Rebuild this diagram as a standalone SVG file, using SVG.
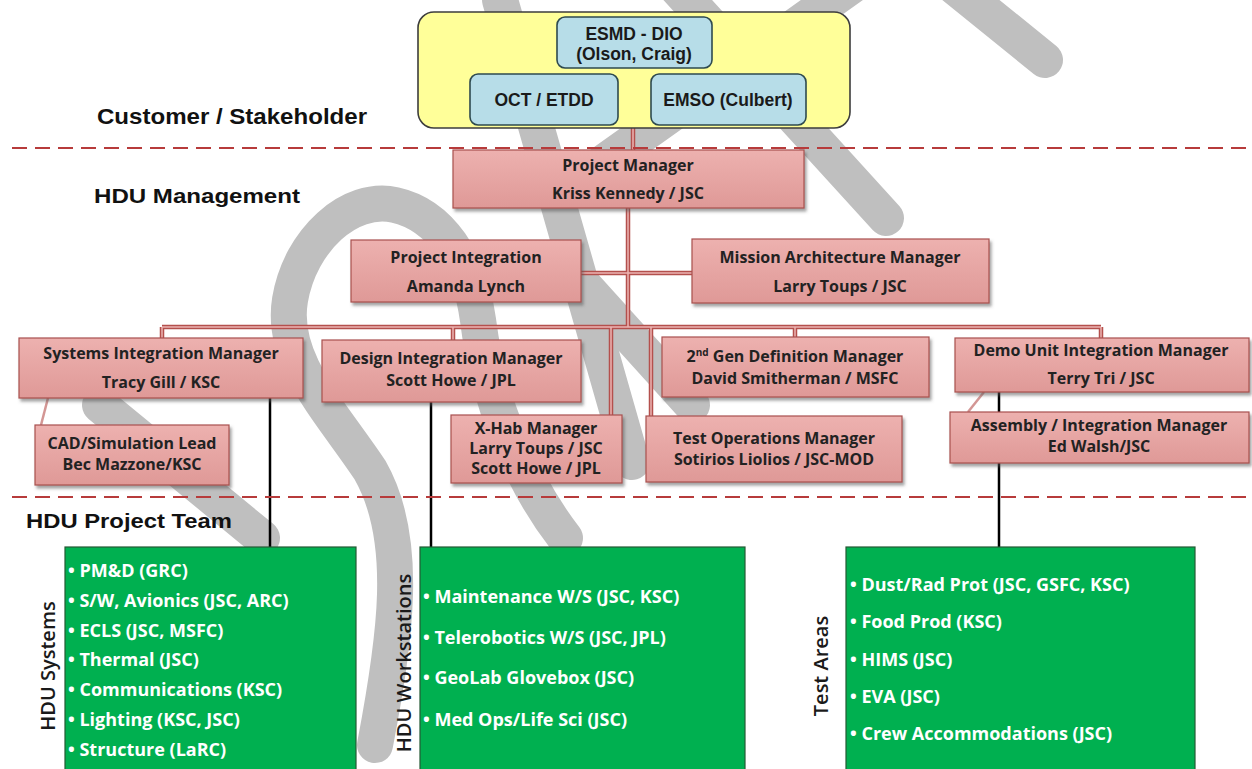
<svg xmlns="http://www.w3.org/2000/svg" width="1252" height="769" viewBox="0 0 1252 769">
<style>
.wm{fill:none;stroke:#bfbfbf;stroke-width:36;stroke-linecap:round;stroke-linejoin:round}
.hdr{font-family:'Liberation Sans',Arial,sans-serif;font-weight:700;fill:#111}
.cust{fill:#ffff99;stroke:#3d3d3d;stroke-width:1.6}
.bl{fill:#b7dde8;stroke:#2e4a4f;stroke-width:1.6}
.bt{font-family:'Liberation Sans',Arial,sans-serif;font-weight:700;font-size:17.5px;fill:#1a1a1a;text-anchor:middle}
.pk{fill:url(#pg);stroke:#a9504e;stroke-width:1.2;filter:url(#sh)}
.pt{font-family:'Open Sans','Noto Sans',sans-serif;font-weight:700;font-size:16px;fill:#222;text-anchor:middle}
.gr{fill:#00b050;stroke:#245a34;stroke-width:1.2}
.gt{font-family:'Open Sans','Noto Sans',sans-serif;font-weight:700;font-size:18px;fill:#fff}
.vl{font-family:'Open Sans','Noto Sans',sans-serif;font-weight:600;font-size:20px;fill:#1a1a1a;text-anchor:middle}
.po{fill:none;stroke:#b4504d;stroke-width:4.5}
.pi{fill:none;stroke:#ecb4b2;stroke-width:1.5}
.lk{fill:none;stroke:#d39694;stroke-width:2.5}
.bk{fill:none;stroke:#000;stroke-width:2.5}
.dash{fill:none;stroke:#b73b3b;stroke-width:2.2;stroke-dasharray:15 8}
</style>
<defs>
<linearGradient id="pg" x1="0" y1="0" x2="0" y2="1">
<stop offset="0" stop-color="#edb1af"/>
<stop offset="1" stop-color="#df9997"/>
</linearGradient>
<filter id="sh" x="-10%" y="-10%" width="120%" height="130%">
<feDropShadow dx="2" dy="3" stdDeviation="1.5" flood-color="#555" flood-opacity="0.55"/>
</filter>
<path id="cp" d="M633,128 V150 M628,208 V327 M581,273 H692 M162,327 H1101 M162,327 V338 M453,327 V340 M795,327 V337 M1101,327 V338 M611,327 V415 M651,327 V416"/>
</defs>

<g id="watermark">
<path class="wm" d="M940,-25 L1045,60"/>
<path class="wm" d="M665,-25 L886,218"/>
<path class="wm" d="M860,-20 L600,165"/>
<path class="wm" d="M500,0 L632,462"/>
<path class="wm" d="M570,270 L692,405"/>
<path class="wm" d="M375,745 C395,640 410,540 370,470 C330,410 280,360 290,300 C300,240 350,195 395,205 C440,215 470,260 478,320 C488,400 520,480 565,538"/>
<path class="wm" d="M100,405 L262,538"/>
</g>

<g id="labels">
<text class="hdr" x="97" y="124" font-size="22" textLength="270" lengthAdjust="spacingAndGlyphs">Customer / Stakeholder</text>
<text class="hdr" x="94" y="203" font-size="21" textLength="206" lengthAdjust="spacingAndGlyphs">HDU Management</text>
<text class="hdr" x="26" y="528" font-size="21" textLength="206" lengthAdjust="spacingAndGlyphs">HDU Project Team</text>
</g>

<g id="connectors">
<use href="#cp" class="po"/>
<use href="#cp" class="pi"/>
<path class="lk" d="M48,398 L41,425"/>
<path class="lk" d="M984,392 L968,412"/>
<path class="bk" d="M270,398 V547 M431,402 V547 M999,392 V547"/>
</g>

<g id="customer">
<rect class="cust" x="418" y="12" width="432" height="116" rx="16"/>
</g>
<g id="esmd">
<rect class="bl" x="557" y="17" width="155" height="51" rx="8"/>
<text class="bt" x="634" y="40">ESMD - DIO</text>
<text class="bt" x="634" y="60">(Olson, Craig)</text>
</g>
<g id="oct">
<rect class="bl" x="470" y="74" width="148" height="51" rx="8"/>
<text class="bt" x="544" y="106">OCT / ETDD</text>
</g>
<g id="emso">
<rect class="bl" x="651" y="74" width="155" height="51" rx="8"/>
<text class="bt" x="728" y="106">EMSO (Culbert)</text>
</g>

<g id="pm">
<rect class="pk" x="453" y="150" width="351" height="58"/>
<text class="pt" x="628" y="171">Project Manager</text>
<text class="pt" x="628" y="199">Kriss Kennedy / JSC</text>
</g>
<g id="pi">
<rect class="pk" x="351" y="240" width="230" height="62"/>
<text class="pt" x="466" y="263">Project Integration</text>
<text class="pt" x="466" y="292">Amanda Lynch</text>
</g>
<g id="ma">
<rect class="pk" x="692" y="239" width="297" height="64"/>
<text class="pt" x="840" y="263">Mission Architecture Manager</text>
<text class="pt" x="840" y="292">Larry Toups / JSC</text>
</g>
<g id="sim">
<rect class="pk" x="19" y="338" width="284" height="60"/>
<text class="pt" x="161" y="359">Systems Integration Manager</text>
<text class="pt" x="161" y="388">Tracy Gill / KSC</text>
</g>
<g id="dim">
<rect class="pk" x="322" y="340" width="259" height="62"/>
<text class="pt" x="451" y="364">Design Integration Manager</text>
<text class="pt" x="451" y="386">Scott Howe / JPL</text>
</g>
<g id="cad">
<rect class="pk" x="35" y="425" width="194" height="60"/>
<text class="pt" x="132" y="449">CAD/Simulation Lead</text>
<text class="pt" x="132" y="470">Bec Mazzone/KSC</text>
</g>
<g id="xhab">
<rect class="pk" x="451" y="415" width="171" height="68"/>
<text class="pt" x="536" y="434">X-Hab Manager</text>
<text class="pt" x="536" y="454">Larry Toups / JSC</text>
<text class="pt" x="536" y="474">Scott Howe / JPL</text>
</g>
<g id="gen2">
<rect class="pk" x="662" y="337" width="267" height="60"/>
<text class="pt" x="795" y="362">2<tspan font-size="10" dy="-6">nd</tspan><tspan dy="6"> Gen Definition Manager</tspan></text>
<text class="pt" x="795" y="384">David Smitherman / MSFC</text>
</g>
<g id="demo">
<rect class="pk" x="955" y="338" width="294" height="54"/>
<text class="pt" x="1101" y="356">Demo Unit Integration Manager</text>
<text class="pt" x="1101" y="384">Terry Tri / JSC</text>
</g>
<g id="testops">
<rect class="pk" x="646" y="416" width="256" height="66"/>
<text class="pt" x="774" y="444">Test Operations Manager</text>
<text class="pt" x="774" y="465">Sotirios Liolios / JSC-MOD</text>
</g>
<g id="assembly">
<rect class="pk" x="950" y="412" width="299" height="51"/>
<text class="pt" x="1099" y="431">Assembly / Integration Manager</text>
<text class="pt" x="1099" y="452">Ed Walsh/JSC</text>
</g>

<g id="systems">
<rect class="gr" x="65" y="547" width="291" height="240"/>
<text class="gt" x="68" y="577">• PM&amp;D (GRC)</text>
<text class="gt" x="68" y="607">• S/W, Avionics (JSC, ARC)</text>
<text class="gt" x="68" y="637">• ECLS (JSC, MSFC)</text>
<text class="gt" x="68" y="666">• Thermal (JSC)</text>
<text class="gt" x="68" y="696">• Communications (KSC)</text>
<text class="gt" x="68" y="726">• Lighting (KSC, JSC)</text>
<text class="gt" x="68" y="756">• Structure (LaRC)</text>
<text class="vl" transform="translate(55,666) rotate(-90)">HDU Systems</text>
</g>
<g id="workstations">
<rect class="gr" x="420" y="547" width="325" height="240"/>
<text class="gt" x="423" y="603">• Maintenance W/S (JSC, KSC)</text>
<text class="gt" x="423" y="644">• Telerobotics W/S (JSC, JPL)</text>
<text class="gt" x="423" y="684">• GeoLab Glovebox (JSC)</text>
<text class="gt" x="423" y="726">• Med Ops/Life Sci (JSC)</text>
<text class="vl" transform="translate(411,663) rotate(-90)">HDU Workstations</text>
</g>
<g id="testareas">
<rect class="gr" x="846" y="547" width="349" height="240"/>
<text class="gt" x="850" y="591">• Dust/Rad Prot (JSC, GSFC, KSC)</text>
<text class="gt" x="850" y="628">• Food Prod (KSC)</text>
<text class="gt" x="850" y="666">• HIMS (JSC)</text>
<text class="gt" x="850" y="703">• EVA (JSC)</text>
<text class="gt" x="850" y="740">• Crew Accommodations (JSC)</text>
<text class="vl" transform="translate(828,666) rotate(-90)">Test Areas</text>
</g>

<g id="dividers">
<path class="dash" d="M12,148 H1252 M12,497 H1252"/>
</g>
</svg>
